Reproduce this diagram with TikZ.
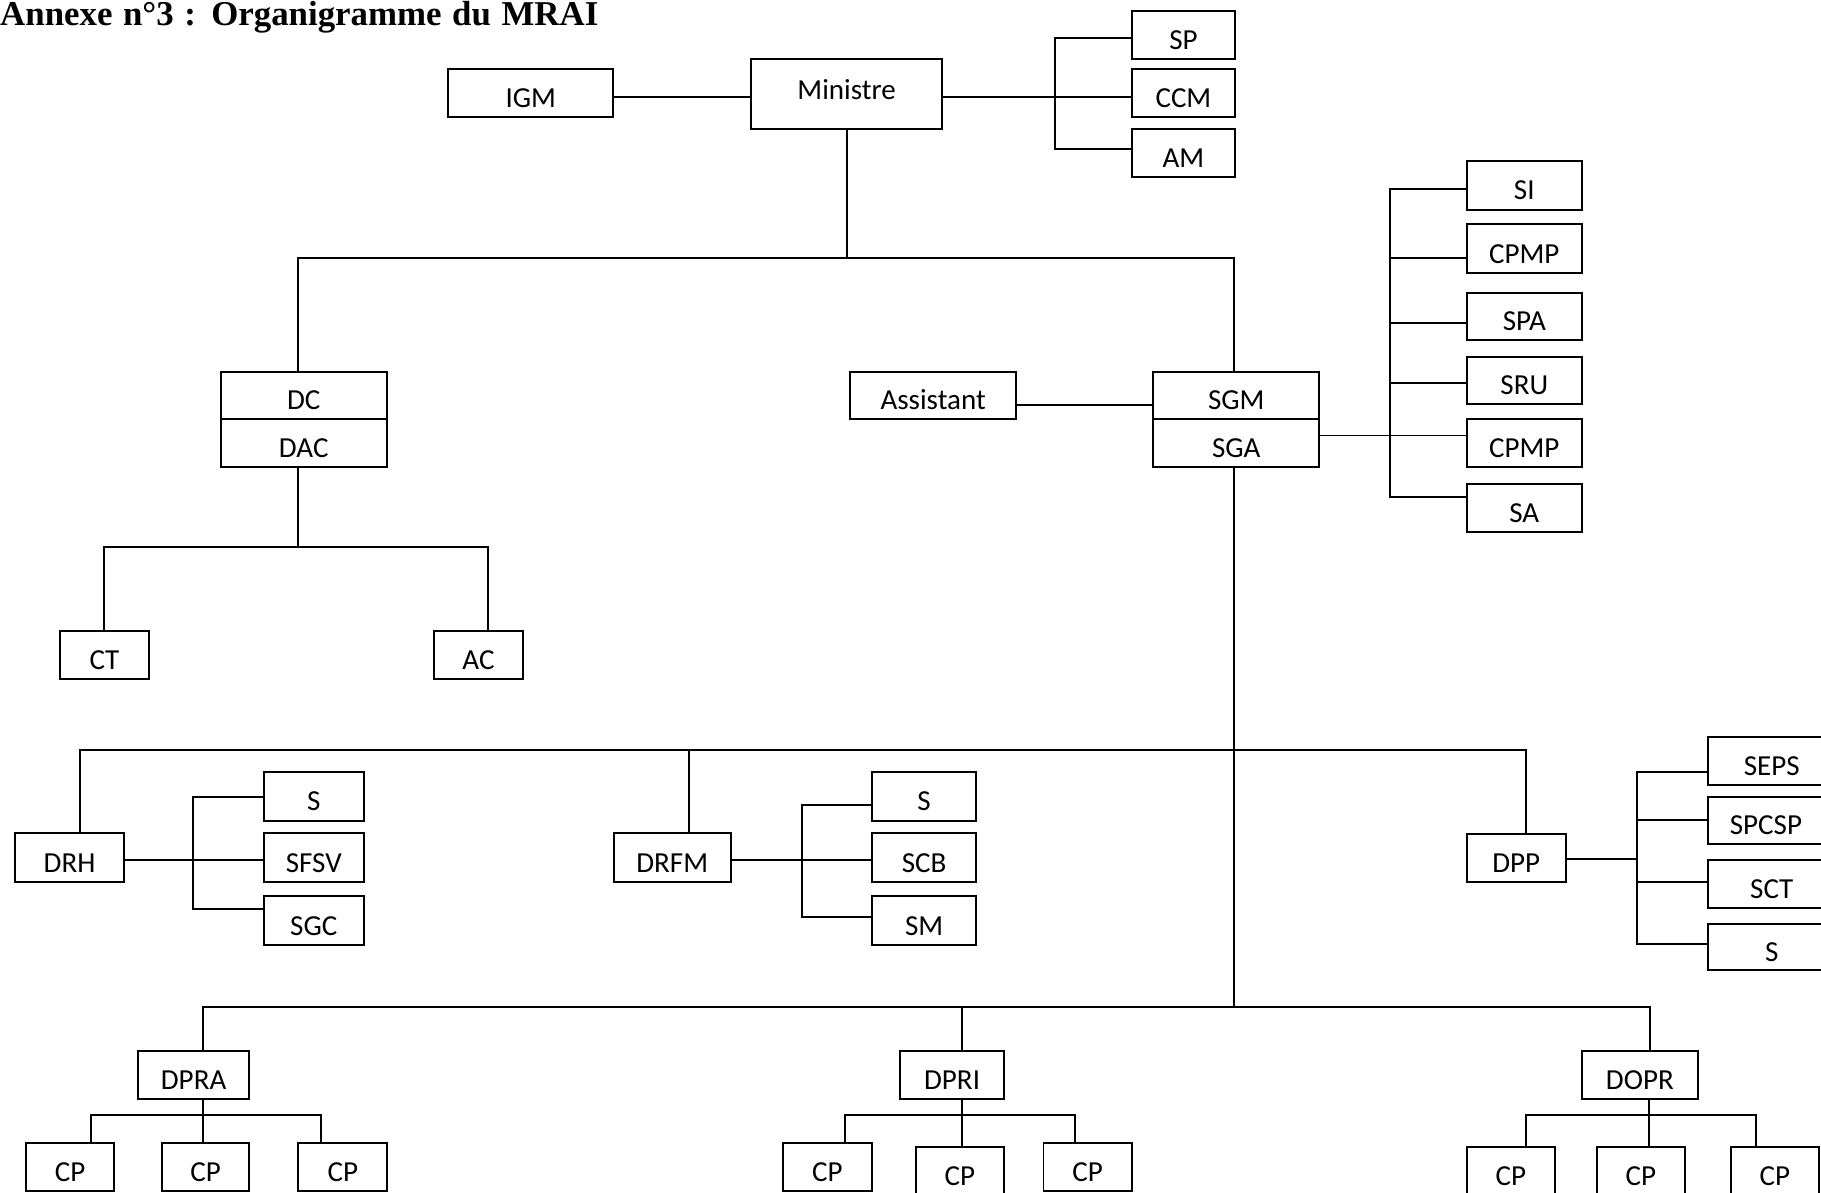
\documentclass[tikz,border=0pt]{standalone}
\usepackage{fontspec}
\setmainfont{Carlito}
\newfontfamily\titlefont{Liberation Serif}
\begin{document}
\begin{tikzpicture}[x=1pt,y=-1pt,
  box/.style={draw, line width=1.7pt, inner sep=0pt, text height=25pt, text depth=0pt,
    font=\fontsize{25}{30}\selectfont},
  conn/.style={line width=1.7pt}]
\fill[white] (0,0) rectangle (1568,1027);
\useasboundingbox (0,0) rectangle (1568,1027);

% title
\node[anchor=base west, inner sep=0pt, font=\titlefont\bfseries\fontsize{30}{34}\selectfont] (title) at (0,22)
  {\makebox[515pt][s]{Annexe n°3 : Organigramme du MRAI}};

% top level
\node[box, minimum width=142pt, minimum height=42pt] (IGM) at (457,80) {IGM};
\node[box, minimum width=164pt, minimum height=60pt, text height=9pt] (Min) at (729,81) {Ministre};
\node[box, minimum width=88pt, minimum height=41.3pt] (SP) at (1019,30.2) {SP};
\node[box, minimum width=88pt, minimum height=41.6pt] (CCM) at (1019,80.2) {CCM};
\node[box, minimum width=88pt, minimum height=41pt] (AM) at (1019,131.5) {AM};

% second level
\node[box, minimum width=143pt, minimum height=41pt] (DC) at (261.5,340.5) {DC};
\node[box, minimum width=143pt, minimum height=41pt] (DAC) at (261.5,381.5) {DAC};
\node[box, minimum width=76pt, minimum height=42pt] (CT) at (90,564) {CT};
\node[box, minimum width=76pt, minimum height=42pt] (AC) at (412,564) {AC};
\node[box, minimum width=143pt, minimum height=41pt] (Asst) at (803.5,340.5) {Assistant};
\node[box, minimum width=143pt, minimum height=41pt] (SGM) at (1064.5,340.5) {SGM};
\node[box, minimum width=143pt, minimum height=41pt] (SGA) at (1064.5,381.5) {SGA};

\node[box, minimum width=99pt, minimum height=42pt] (SI) at (1312.5,159.7) {SI};
\node[box, minimum width=99pt, minimum height=42pt] (CPMPa) at (1312.5,214) {CPMP};
\node[box, minimum width=99pt, minimum height=41pt] (SPA) at (1312.5,272.5) {SPA};
\node[box, minimum width=99pt, minimum height=40.4pt] (SRU) at (1312.5,327.6) {SRU};
\node[box, minimum width=99pt, minimum height=41pt] (CPMPb) at (1312.5,381.4) {CPMP};
\node[box, minimum width=99pt, minimum height=41pt] (SA) at (1312.5,437.5) {SA};

% third level
\node[box, minimum width=93.3pt, minimum height=42pt] (DRH) at (59.9,738.5) {DRH};
\node[box, minimum width=85.7pt, minimum height=42pt] (Sh) at (270.2,685.7) {S};
\node[box, minimum width=85.7pt, minimum height=42pt] (SFSV) at (270.2,738.5) {SFSV};
\node[box, minimum width=85.7pt, minimum height=42pt] (SGC) at (270.2,792.6) {SGC};

\node[box, minimum width=101pt, minimum height=42pt] (DRFM) at (578.8,738.5) {DRFM};
\node[box, minimum width=90pt, minimum height=42pt] (Sf) at (795.7,685.7) {S};
\node[box, minimum width=90pt, minimum height=42pt] (SCB) at (795.7,738.5) {SCB};
\node[box, minimum width=90pt, minimum height=42pt] (SM) at (795.7,792.6) {SM};

\node[box, minimum width=85.6pt, minimum height=41.4pt] (DPP) at (1305.6,738.5) {DPP};
\node[box, minimum width=110pt, minimum height=41pt] (SEPS) at (1525.6,655.4) {SEPS};
\node[box, minimum width=100pt, minimum height=40.7pt] (SPCSP) at (1520.6,706.3) {SPCSP};
\node[box, minimum width=110pt, minimum height=41.5pt] (SCT) at (1525.6,761.2) {SCT};
\node[box, minimum width=110pt, minimum height=39.6pt] (Sp) at (1525.6,815.4) {S};

% fourth level
\node[box, minimum width=96pt, minimum height=41.4pt] (DPRA) at (166.7,925.9) {DPRA};
\node[box, minimum width=75.8pt, minimum height=41pt] (CPa1) at (60.3,1005) {CP};
\node[box, minimum width=75.5pt, minimum height=41pt] (CPa2) at (177,1005) {CP};
\node[box, minimum width=76.6pt, minimum height=41pt] (CPa3) at (295.2,1005) {CP};

\node[box, minimum width=89.7pt, minimum height=41.4pt] (DPRI) at (819.8,925.9) {DPRI};
\node[box, minimum width=76.4pt, minimum height=41pt] (CPi1) at (712.5,1005) {CP};
\node[box, minimum width=75pt, minimum height=41pt] (CPi2) at (826.6,1008.5) {CP};
\node[box, minimum width=76.2pt, minimum height=41pt] (CPi3) at (936.6,1005) {CP};

\node[box, minimum width=100pt, minimum height=41.4pt] (DOPR) at (1412,925.9) {DOPR};
\node[box, minimum width=76pt, minimum height=41pt] (CPo1) at (1301,1008.5) {CP};
\node[box, minimum width=75.7pt, minimum height=41pt] (CPo2) at (1412.9,1008.5) {CP};
\node[box, minimum width=75.5pt, minimum height=41pt] (CPo3) at (1528.3,1008.5) {CP};

% junction coordinates
\coordinate (mbT) at (908,32.4);
\coordinate (mbB) at (908,128.3);
\coordinate (tbL) at (256.5,222);
\coordinate (tbR) at (1062.5,222);
\coordinate (dbL) at (89.5,471);
\coordinate (dbR) at (420,471);
\coordinate (sbT) at (1197,163);
\coordinate (sbB) at (1197,428);
\coordinate (mbusL) at (68.6,645.5);
\coordinate (mbusR) at (1314,645.5);
\coordinate (mbusM) at (593.6,645.5);
\coordinate (hbT) at (165.8,686);
\coordinate (hbB) at (165.8,782.4);
\coordinate (fbT) at (690.3,692.8);
\coordinate (fbB) at (690.3,789.3);
\coordinate (pbT) at (1409.8,664.4);
\coordinate (pbB) at (1409.8,812.8);
\coordinate (bbL) at (175.2,867.3);
\coordinate (bbM) at (828,867.3);
\coordinate (bbR) at (1420.5,867.3);
\coordinate (raL) at (78,960);
\coordinate (raR) at (276.4,960);
\coordinate (riL) at (727.6,960);
\coordinate (riR) at (925.5,960);
\coordinate (roL) at (1314,960);
\coordinate (roR) at (1512,960);

% connectors: top
\draw[conn] (IGM.east |- 0,83.5) -- (Min.west |- 0,83.5);
\draw[conn] (Min.east |- 0,83.5) -- (CCM.west |- 0,83.5);
\draw[conn] (SP.west |- mbT) -- (mbT) -- (mbB) -- (AM.west |- mbB);
\draw[conn] (Min.south) -- (Min.south |- tbL);
\draw[conn] (DC.north -| tbL) |- (tbR) -- (SGM.north -| tbR);

% DC / DAC
\draw[conn] (DAC.south -| tbL) -- (tbL |- dbL);
\draw[conn] (CT.north -| dbL) |- (dbR) -- (AC.north -| dbR);

% Assistant
\draw[conn] (Asst.east |- 0,349) -- (SGM.west |- 0,349);

% SGA right
\draw[conn] (SGA.east |- 0,375) -- (CPMPb.west |- 0,375);
\draw[conn] (SI.west |- sbT) -- (sbT) -- (sbB) -- (SA.west |- sbB);
\draw[conn] (sbT |- 0,222) -- (CPMPa.west |- 0,222);
\draw[conn] (sbT |- 0,278) -- (SPA.west |- 0,278);
\draw[conn] (sbT |- 0,330) -- (SRU.west |- 0,330);

% SGA down
\draw[conn] (SGA.south -| tbR) -- (tbR |- bbL);
\draw[conn] (DRH.north -| mbusL) |- (mbusR) -- (DPP.north -| mbusR);
\draw[conn] (DRFM.north -| mbusM) -- (mbusM);

% DRH
\draw[conn] (DRH.east |- 0,740.5) -- (SFSV.west |- 0,740.5);
\draw[conn] (Sh.west |- hbT) -- (hbT) -- (hbB) -- (SGC.west |- hbB);

% DRFM
\draw[conn] (DRFM.east |- 0,740.5) -- (SCB.west |- 0,740.5);
\draw[conn] (Sf.west |- fbT) -- (fbT) -- (fbB) -- (SM.west |- fbB);

% DPP
\draw[conn] (DPP.east |- 0,739.6) -- (pbT |- 0,739.6);
\draw[conn] (SEPS.west |- pbT) -- (pbT) -- (pbB) -- (Sp.west |- pbB);
\draw[conn] (pbT |- 0,706) -- (SPCSP.west |- 0,706);
\draw[conn] (pbT |- 0,759.2) -- (SCT.west |- 0,759.2);

% bottom bus
\draw[conn] (DPRA.north -| bbL) |- (bbR) -- (DOPR.north -| bbR);
\draw[conn] (DPRI.north -| bbM) -- (bbM);

% DPRA
\draw[conn] (DPRA.south -| bbL) -- (CPa2.north -| bbL);
\draw[conn] (CPa1.north -| raL) |- (raR) -- (CPa3.north -| raR);

% DPRI
\draw[conn] (DPRI.south -| bbM) -- (CPi2.north -| bbM);
\draw[conn] (CPi1.north -| riL) |- (riR) -- (CPi3.north -| riR);

% DOPR
\draw[conn] (DOPR.south -| 1420,0) -- (CPo2.north -| 1420,0);
\draw[conn] (CPo1.north -| roL) |- (roR) -- (CPo3.north -| roR);
\end{tikzpicture}
\end{document}
